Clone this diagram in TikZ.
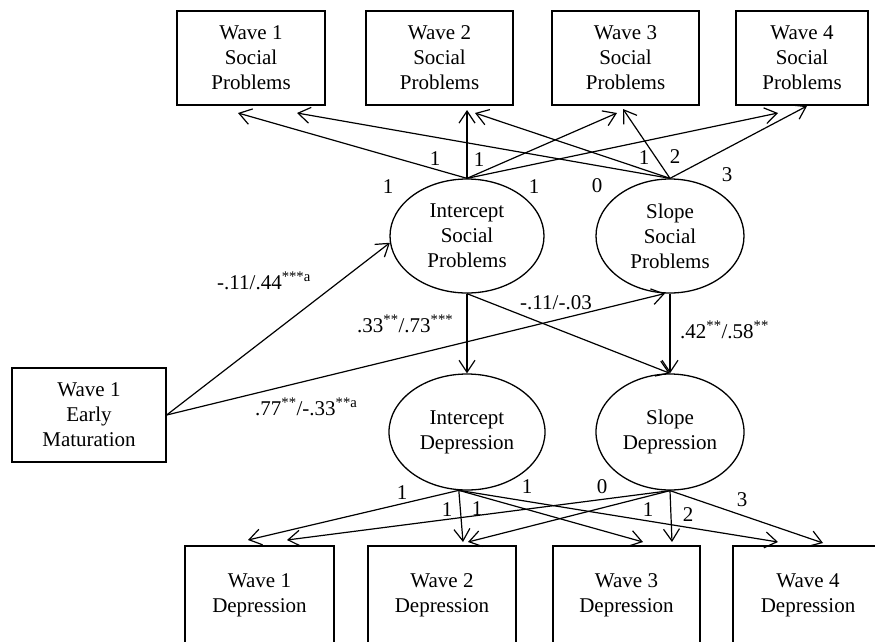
\documentclass[tikz,border=0pt]{standalone}
\usepackage{fontspec}
\setmainfont{Liberation Serif}
\usetikzlibrary{shapes.geometric,arrows.meta}
\begin{document}
\begin{tikzpicture}[x=1pt,y=-1pt,
  font=\fontsize{21}{25}\selectfont,
  every node/.style={inner sep=0pt},
  box/.style={draw, line width=1.3pt, align=center, minimum height=94pt},
  latent/.style={draw, ellipse, line width=1.3pt, align=center},
  path/.style={line width=1.2pt, -{Straight Barb[length=12pt,width=16pt]}},
  coef/.style={anchor=base west},
]
\useasboundingbox (0,0) rectangle (875,641);

% observed social problems
\node[box, minimum width=148pt] (sp1) at (251,58)   {Wave 1\\Social\\Problems};
\node[box, minimum width=147pt] (sp2) at (439.5,58) {Wave 2\\Social\\Problems};
\node[box, minimum width=147pt] (sp3) at (625.5,58) {Wave 3\\Social\\Problems};
\node[box, minimum width=132pt] (sp4) at (802,58)   {Wave 4\\Social\\Problems};

% growth factors
\node[latent, minimum width=154pt, minimum height=114pt] (isp) at (467,236) {Intercept\\Social\\Problems};
\node[latent, minimum width=148pt, minimum height=114pt] (ssp) at (670,236) {Slope\\Social\\Problems};
\node[latent, minimum width=156pt, minimum height=116pt] (isd) at (467,432) {Intercept\\Depression};
\node[latent, minimum width=148pt, minimum height=116pt] (ssd) at (670,432) {Slope\\Depression};

% predictor
\node[box, minimum width=154pt] (em) at (89,415) {Wave 1\\Early\\Maturation};

% observed depression
\node[box, minimum width=149pt, minimum height=98pt] (dp1) at (259.5,595) {Wave 1\\Depression};
\node[box, minimum width=148pt, minimum height=98pt] (dp2) at (442,595)   {Wave 2\\Depression};
\node[box, minimum width=147pt, minimum height=98pt] (dp3) at (626.5,595) {Wave 3\\Depression};
\node[box, minimum width=150pt, minimum height=98pt] (dp4) at (808,595)   {Wave 4\\Depression};

% arrow ends below the indicator boxes
\coordinate (sp1a) at (238,113);
\coordinate (sp1b) at (297,113);
\coordinate (sp2a) at (467,110);
\coordinate (sp2b) at (475,113);
\coordinate (sp3a) at (617,113);
\coordinate (sp3b) at (623,109);
\coordinate (sp4a) at (778,113);
\coordinate (sp4b) at (807,106);

\coordinate (dp1a) at (248,540);
\coordinate (dp1b) at (287,540);
\coordinate (dp2a) at (463,542);
\coordinate (dp2b) at (468,542);
\coordinate (dp3a) at (643,542);
\coordinate (dp3b) at (672,542);
\coordinate (dp4a) at (778,542);
\coordinate (dp4b) at (823,543);

% loadings, social problems
\draw[path] (isp.north) -- (sp1a);
\draw[path] (isp.north) -- (sp2a);
\draw[path] (isp.north) -- (sp3a);
\draw[path] (isp.north) -- (sp4a);
\draw[path] (ssp.north) -- (sp1b);
\draw[path] (ssp.north) -- (sp2b);
\draw[path] (ssp.north) -- (sp3b);
\draw[path] (ssp.north) -- (sp4b);

\node at (388,187) {1};
\node at (435,159) {1};
\node at (479,160) {1};
\node at (534,187) {1};
\node at (597,186) {0};
\node at (644,158) {1};
\node at (675,157) {2};
\node at (727,175) {3};

% structural paths
\draw[path] (em.east) -- (isp.185);
\draw[path] (em.east) -- (ssp.265);
\draw[path] (isp.south) -- (isd.north);
\draw[path] (isp.south) -- (ssd.north);
\draw[path] (ssp.south) -- (ssd.north);

\node[coef] at (217,289) {-.11/.44\textsuperscript{***a}};
\node[coef] at (255,415) {.77\textsuperscript{**}/-.33\textsuperscript{**a}};
\node[coef] at (357,332) {.33\textsuperscript{**}/.73\textsuperscript{***}};
\node[coef] at (520,309) {-.11/-.03};
\node[coef] at (680,338) {.42\textsuperscript{**}/.58\textsuperscript{**}};

% loadings, depression
\draw[path] (isd.262) -- (dp1a);
\draw[path] (isd.262) -- (dp2a);
\draw[path] (isd.262) -- (dp3a);
\draw[path] (isd.262) -- (dp4a);
\draw[path] (ssd.south) -- (dp1b);
\draw[path] (ssd.south) -- (dp2b);
\draw[path] (ssd.south) -- (dp3b);
\draw[path] (ssd.south) -- (dp4b);

\node at (402,493) {1};
\node at (447,510) {1};
\node at (477,509) {1};
\node at (527,487) {1};
\node at (602,487) {0};
\node at (648,510) {1};
\node at (688,515) {2};
\node at (742,500) {3};
\end{tikzpicture}
\end{document}
